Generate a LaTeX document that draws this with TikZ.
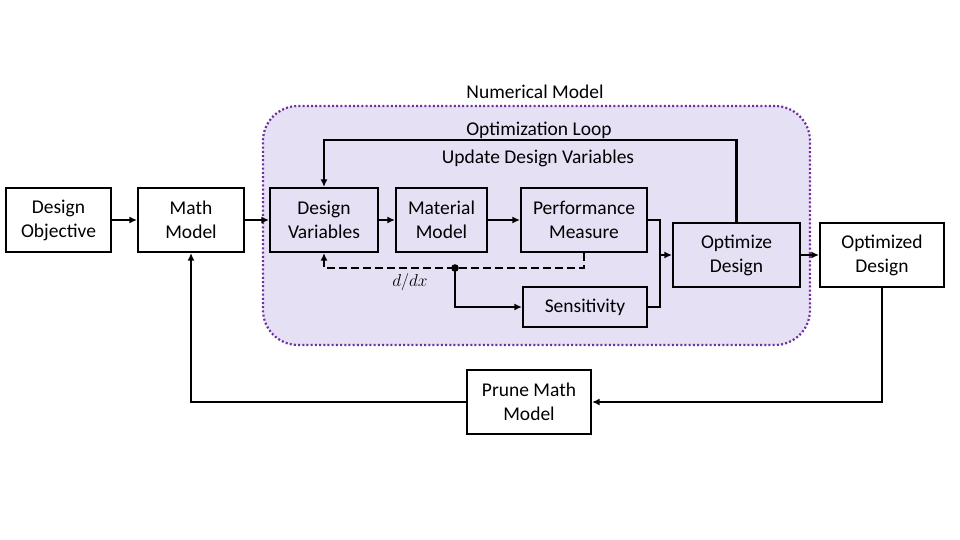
\documentclass[tikz,border=0pt]{standalone}
\usepackage{fontspec}
\setmainfont{Carlito}
\usetikzlibrary{arrows.meta}
\definecolor{lav}{HTML}{E6E0F4}
\definecolor{purp}{HTML}{7030A0}
\begin{document}
\begin{tikzpicture}[x=1pt,y=-1pt,
 box/.style={draw, line width=2.2pt, align=center, inner sep=0pt, font=\fontsize{19.5}{24}\selectfont},
 lbl/.style={font=\fontsize{19.5}{24}\selectfont, inner sep=0pt},
 conn/.style={line width=2.2pt, -{Latex[length=7.5pt,width=7pt]}},
 plain/.style={line width=2.2pt},
 dashline/.style={dash pattern=on 8pt off 4pt}]
\useasboundingbox (0,0) rectangle (960,540);
\fill[white] (0,0) rectangle (960,540);
\node[draw=purp, fill=lav, dash pattern=on 2pt off 2.2pt, line width=2.2pt, rounded corners=35pt, minimum width=547pt, minimum height=239pt, inner sep=0pt] (num) at (536.5,225.5) {};
\node[lbl] (numl) at (535,92) {Numerical Model};
\node[lbl] (loopl) at (539,130) {Optimization Loop};
\node[lbl] (updl) at (538,158) {Update Design Variables};

\node[box, minimum width=105pt, minimum height=64pt] (obj) at (58.5,220) {Design\\Objective};
\node[box, minimum width=106pt, minimum height=64pt] (math) at (191,220) {Math\\Model};
\node[box, minimum width=108pt, minimum height=64pt] (dv) at (324,220) {Design\\Variables};
\node[box, minimum width=91pt, minimum height=64pt] (mat) at (441.5,220) {Material\\Model};
\node[box, minimum width=126pt, minimum height=64pt] (perf) at (584,220) {Performance\\Measure};
\node[box, minimum width=127pt, minimum height=64pt] (opt) at (736.5,255) {Optimize\\Design};
\node[box, minimum width=124pt, minimum height=40pt] (sens) at (585,307) {Sensitivity};
\node[box, minimum width=124pt, minimum height=64pt] (optd) at (882,255) {Optimized\\Design};
\node[box, minimum width=124pt, minimum height=64pt] (prune) at (529,402) {Prune Math\\Model};

\draw[conn] (obj) -- (math);
\draw[conn] (math) -- (dv);
\draw[conn] (dv) -- (mat);
\draw[conn] (mat) -- (perf);
\draw[conn] (opt) -- (optd);

\coordinate (lt) at (324,140);
\draw[conn] (opt.north) |- (lt) -- (dv.north);

\coordinate (j) at (660,255);
\draw[plain] (perf.east) -| (j);
\draw[plain] (sens.east) -| (j);
\draw[conn] (j) -- (opt.west);

\coordinate (dot) at (455,268);
\draw[conn, dashline] (perf.south) |- (dot) -| (dv.south);
\fill (dot) circle (3.8pt);
\draw[conn] (dot) |- (sens.west);
\node[inner sep=0pt, font=\fontsize{19}{22}\selectfont] (ddx) at (410,282) {$d/dx$};

\draw[conn] (optd.south) |- (prune.east);
\draw[conn] (prune.west) -| (math.south);
\end{tikzpicture}
\end{document}
